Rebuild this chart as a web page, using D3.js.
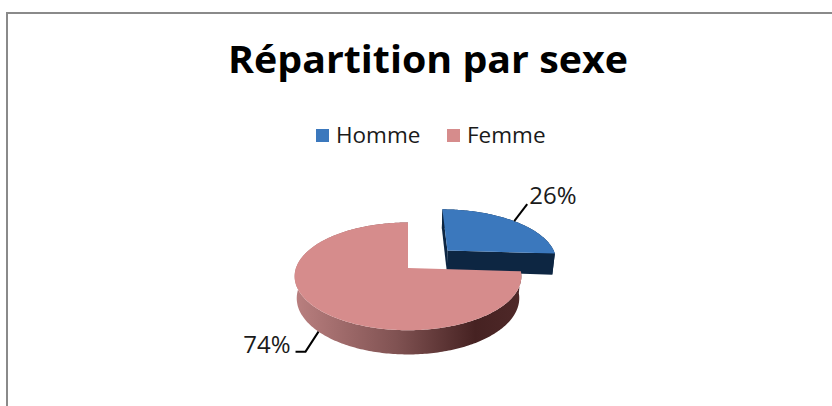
<!DOCTYPE html>
<html>
<head>
<meta charset="utf-8">
<script src="https://cdn.jsdelivr.net/npm/d3@7"></script>
<style>
  body { margin: 0; background: #fff; }
  svg { display: block; font-family: "Open Sans", Lato, "Liberation Sans", sans-serif; }
</style>
</head>
<body>
<div class="box"></div>
<script>
// Données
const categories = ['Homme', 'Femme'];
const valeurs = [26, 74];
const etiquettes = ['26%', '74%'];

const couleurs = {
  Homme: { dessus: '#3b78bd', cote: '#0d2642' },
  Femme: { dessus: '#d68c8c', cote: 'url(#gradFemme)' }
};

const width = 832, height = 406;

const svg = d3.select('.box')
              .append('svg')
              .attr('width', width)
              .attr('height', height);

// cadre
svg.append('rect')
   .attr('x', 7).attr('y', 13)
   .attr('width', 900).attr('height', 500)
   .attr('fill', 'none')
   .attr('stroke', '#8a8a8a')
   .attr('stroke-width', 2);

// Titre
svg.append('text')
   .attr('x', 428).attr('y', 73)
   .attr('text-anchor', 'middle')
   .attr('font-weight', 'bold')
   .attr('font-size', 38)
   .attr('textLength', 400)
   .attr('lengthAdjust', 'spacingAndGlyphs')
   .attr('fill', '#000')
   .text('Répartition par sexe');

// Légende
const legende = svg.append('g').attr('transform', 'translate(316, 143)');
const posLegende = d3.scalePoint().domain(categories).range([0, 131]);
const items = legende.selectAll('g').data(categories).enter()
   .append('g')
   .attr('transform', d => `translate(${posLegende(d)}, 0)`);
items.append('rect')
   .attr('x', 0).attr('y', -14)
   .attr('width', 13).attr('height', 13)
   .attr('fill', d => couleurs[d].dessus);
items.append('text')
   .attr('x', 20).attr('y', 0)
   .attr('font-size', 22.5)
   .attr('fill', '#1a1a1a')
   .text(d => d);

// Camembert 3D (projection en perspective)
const cx = 408, cy = 268;
const R = 112, epaisseur = 25, eclat = 57;
const tilt = 28 * Math.PI / 180, D = 639;
const sinT = Math.sin(tilt), cosT = Math.cos(tilt);

const projeter = (X, Y, Z) => {
  const sy = Z * sinT - Y * cosT;
  const dz = Z * cosT + Y * sinT;
  const p = D / (D - dz);
  return [cx + X * p, cy + sy * p];
};

const defs = svg.append('defs');
const grad = defs.append('linearGradient')
   .attr('id', 'gradFemme')
   .attr('gradientUnits', 'userSpaceOnUse')
   .attr('x1', cx - R).attr('x2', cx + R)
   .attr('y1', 0).attr('y2', 0);
[[0, '#b97f7f'], [0.45, '#805252'], [0.8, '#462222'], [1, '#4e2828']]
  .forEach(s => grad.append('stop').attr('offset', s[0]).attr('stop-color', s[1]));

const pie = d3.pie().sort(null).value(d => d.valeur);
const arcs = pie(categories.map((c, i) => ({ nom: c, valeur: valeurs[i], label: etiquettes[i] })));

const line = d3.line();
const camX = 0, camZ = D * cosT;

const pas = Math.PI / 180;
const echantillons = (a0, a1) => d3.range(a0, a1, pas).concat([a1]);

arcs.forEach((a, i) => {
  const mid = (a.startAngle + a.endAngle) / 2;
  const e = i === 0 ? eclat : 0;
  a.ox = e * Math.sin(mid);
  a.oz = -e * Math.cos(mid);
  a.mid = mid;
});

const pt = (a, r, ang, Y) => projeter(a.ox + r * Math.sin(ang), Y, a.oz - r * Math.cos(ang));

const pieG = svg.append('g');

// Homme (derrière) puis Femme
arcs.forEach(a => {
  const c = couleurs[a.data.nom];
  const g = pieG.append('g');
  const angles = echantillons(a.startAngle, a.endAngle);

  // paroi extérieure
  const haut = angles.map(t => pt(a, R, t, 0));
  const bas = angles.map(t => pt(a, R, t, -epaisseur)).reverse();
  g.append('path')
   .attr('d', line(haut.concat(bas)) + 'Z')
   .attr('fill', c.cote);

  // faces de coupe
  [[a.startAngle, -1], [a.endAngle, 1]].forEach(([ang, s]) => {
    const nx = s * Math.cos(ang), nz = s * Math.sin(ang);
    if ((camX - a.ox) * nx + (camZ - a.oz) * nz <= 0) return;
    const quad = [pt(a, 0, ang, 0), pt(a, R, ang, 0), pt(a, R, ang, -epaisseur), pt(a, 0, ang, -epaisseur)];
    g.append('path')
     .attr('d', line(quad) + 'Z')
     .attr('fill', a.data.nom === 'Homme' ? c.cote : '#5a2e2e');
  });

  // dessus
  const dessus = [pt(a, 0, 0, 0)].concat(angles.map(t => pt(a, R, t, 0)));
  g.append('path')
   .attr('d', line(dessus) + 'Z')
   .attr('fill', c.dessus);
});

// Étiquettes de données avec lignes de rappel
const rappel = {
  Homme: { haut: true, chemin: [[0, 0], [13, -17]], texte: [15, -17], ancre: 'start' },
  Femme: { haut: false, chemin: [[0, 0], [-13, 20], [-23, 20]], texte: [-28, 21], ancre: 'end' }
};

arcs.forEach(a => {
  const r = rappel[a.data.nom];
  const p0 = pt(a, R, a.mid, r.haut ? 0 : -epaisseur);
  svg.append('path')
     .attr('d', line(r.chemin.map(d => [p0[0] + d[0], p0[1] + d[1]])))
     .attr('fill', 'none')
     .attr('stroke', '#000')
     .attr('stroke-width', 2);
  svg.append('text')
     .attr('x', p0[0] + r.texte[0])
     .attr('y', p0[1] + r.texte[1])
     .attr('text-anchor', r.ancre)
     .attr('font-size', 24)
     .attr('fill', '#1a1a1a')
     .text(a.data.label);
});
</script>
</body>
</html>
